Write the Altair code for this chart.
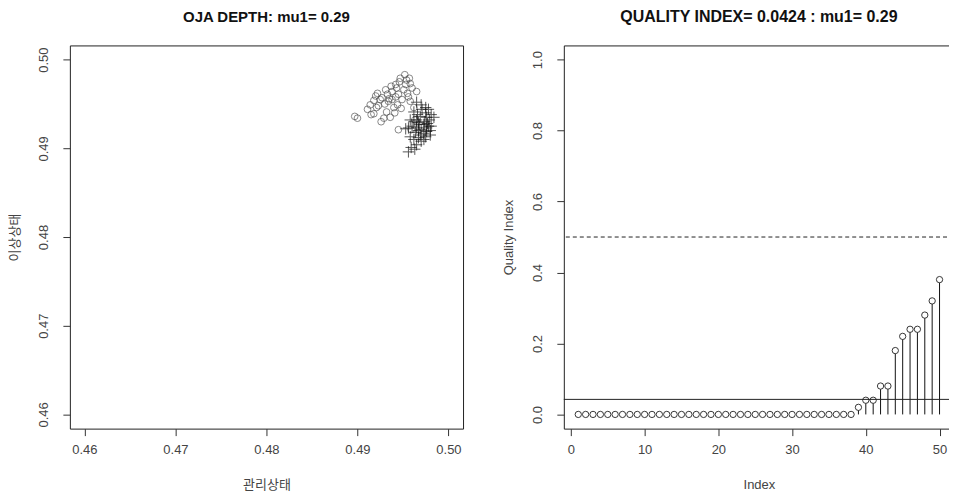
import altair as alt
import pandas as pd

# ---- data ----
circle_x = [0.4897, 0.4900, 0.4911, 0.4914, 0.4915, 0.4918, 0.4920, 0.4922, 0.4923, 0.4925,
            0.4926, 0.4929, 0.4930, 0.4931, 0.4933, 0.4934, 0.4935, 0.4937, 0.4938, 0.4940,
            0.4942, 0.4942, 0.4944, 0.4946, 0.4947, 0.4948, 0.4951, 0.4953, 0.4955, 0.4956,
            0.4958, 0.4960, 0.4958, 0.4954, 0.4949, 0.4941, 0.4932, 0.4927, 0.4921, 0.4945,
            0.4962, 0.4959, 0.4963, 0.4965, 0.4936, 0.4952, 0.4957, 0.4943, 0.4938, 0.4918,
            0.4945]
circle_y = [0.4936, 0.4934, 0.4944, 0.4949, 0.4938, 0.4939, 0.4959, 0.4962, 0.4948, 0.4955,
            0.4930, 0.4934, 0.4950, 0.4966, 0.4961, 0.4953, 0.4956, 0.4970, 0.4964, 0.4946,
            0.4972, 0.4958, 0.4949, 0.4975, 0.4979, 0.4945, 0.4966, 0.4972, 0.4962, 0.4958,
            0.4953, 0.4968, 0.4973, 0.4977, 0.4955, 0.4940, 0.4941, 0.4957, 0.4946, 0.4961,
            0.4946, 0.4921, 0.4932, 0.4964, 0.4935, 0.4983, 0.4979, 0.4968, 0.4955, 0.4954,
            0.4921]
cross_x = [0.4965, 0.4970, 0.4975, 0.4978, 0.4962, 0.4975, 0.4981, 0.4969, 0.4976, 0.4958,
           0.4962, 0.4967, 0.4973, 0.4978, 0.4965, 0.4956, 0.4970, 0.4976, 0.4980, 0.4964,
           0.4969, 0.4975, 0.4980, 0.4967, 0.4962, 0.4973, 0.4970, 0.4965, 0.4976, 0.4959,
           0.4956, 0.4963, 0.4968, 0.4974, 0.4979, 0.4966, 0.4971, 0.4960, 0.4977, 0.4981,
           0.4967, 0.4973, 0.4958, 0.4965, 0.4984, 0.4953]
cross_y = [0.4952, 0.4949, 0.4946, 0.4944, 0.4941, 0.4940, 0.4938, 0.4936, 0.4935, 0.4932,
           0.4930, 0.4929, 0.4927, 0.4925, 0.4923, 0.4923, 0.4921, 0.4919, 0.4920, 0.4918,
           0.4915, 0.4913, 0.4915, 0.4912, 0.4910, 0.4910, 0.4908, 0.4904, 0.4923, 0.4901,
           0.4896, 0.4899, 0.4927, 0.4930, 0.4932, 0.4938, 0.4944, 0.4925, 0.4928, 0.4925,
           0.4920, 0.4917, 0.4913, 0.4932, 0.4935, 0.4922]

qi_index = list(range(1, 51))
qi_values = [0.0] * 38 + [0.02, 0.04, 0.04, 0.08, 0.08, 0.18, 0.22, 0.24, 0.24, 0.28, 0.32, 0.38]
quality_index = 0.0424
cutoff = 0.5

left_ticks = [0.46, 0.47, 0.48, 0.49, 0.50]
right_x_ticks = [0, 10, 20, 30, 40, 50]
right_y_ticks = [0.0, 0.2, 0.4, 0.6, 0.8, 1.0]

left_title = "OJA DEPTH: mu1= 0.29"
right_title = "QUALITY INDEX= 0.0424 : mu1= 0.29"

FONT = "Liberation Sans, Arial, Noto Sans CJK KR"

circ_df = pd.DataFrame({"x": circle_x, "y": circle_y})
cross_df = pd.DataFrame({"x": cross_x, "y": cross_y})
qi_df = pd.DataFrame({"idx": qi_index, "qi": qi_values, "zero": [0.0] * len(qi_index)})

def yaxis(title, values, fmt):
    return alt.Axis(title=title, values=values, format=fmt, labelAngle=-90,
                    labelAlign="center", labelBaseline="bottom", labelPadding=12,
                    titlePadding=16, grid=False, domain=False)

def xaxis(title, values, fmt):
    return alt.Axis(title=title, values=values, format=fmt, labelPadding=8,
                    titlePadding=22, grid=False, domain=False)

lx = alt.X("x:Q", scale=alt.Scale(domain=[0.4584, 0.5016], nice=False, zero=False),
           axis=xaxis("관리상태", left_ticks, ".2f"))
ly = alt.Y("y:Q", scale=alt.Scale(domain=[0.4584, 0.5016], nice=False, zero=False),
           axis=yaxis("이상상태", left_ticks, ".2f"))

circles = alt.Chart(circ_df).mark_point(shape="circle", filled=False, size=45,
                                         color="#444444", strokeWidth=0.9).encode(x=lx, y=ly)
crosses = alt.Chart(cross_df).mark_point(shape="M-1,0L1,0M0,-1L0,1", filled=False, size=130,
                                          color="#111111", strokeWidth=1).encode(x=lx, y=ly)

left = alt.layer(circles, crosses).properties(
    width=394, height=384,
    title=alt.Title(left_title, fontSize=15, font=FONT, fontWeight="bold", offset=20, color="#111"))

rx_scale = alt.Scale(domain=[-0.96, 51.96], nice=False, zero=False)
ry_scale = alt.Scale(domain=[-0.04, 1.04], nice=False, zero=False)
rx = alt.X("idx:Q", scale=rx_scale, axis=xaxis("Index", right_x_ticks, "d"))
ry = alt.Y("qi:Q", scale=ry_scale, axis=yaxis("Quality Index", right_y_ticks, ".1f"))

stems = alt.Chart(qi_df).mark_rule(color="#111111", strokeWidth=1).encode(x=rx, y=ry, y2="zero:Q")
pts = alt.Chart(qi_df).mark_point(shape="circle", filled=True, fill="white", size=40,
                                  stroke="#222222", strokeWidth=0.9, opacity=1).encode(x=rx, y=ry)
qi_line = alt.Chart(pd.DataFrame({"v": [quality_index]})).mark_rule(
    color="#222222", strokeWidth=1).encode(y=alt.Y("v:Q", scale=ry_scale))
cut_line = alt.Chart(pd.DataFrame({"v": [cutoff]})).mark_rule(
    color="#222222", strokeWidth=1, strokeDash=[4, 3]).encode(y=alt.Y("v:Q", scale=ry_scale))

right = alt.layer(stems, pts, qi_line, cut_line).properties(
    width=391, height=384,
    title=alt.Title(right_title, fontSize=16, font=FONT, fontWeight="bold", offset=20, color="#111"))

chart = alt.hconcat(left, right, spacing=38).properties(
    padding={"left": 0, "top": 0, "bottom": 0, "right": -6}, background="white"
).configure_view(
    stroke="#222222", strokeWidth=1
).configure_axis(
    domain=False, grid=False, tickColor="#333333", tickSize=7, tickWidth=1,
    labelFont=FONT, labelFontSize=13, labelColor="#444444",
    titleFont=FONT, titleFontSize=13, titleFontWeight="normal", titleColor="#444444"
)

chart.save("out.html", embed_options={"renderer": "svg", "actions": False})
